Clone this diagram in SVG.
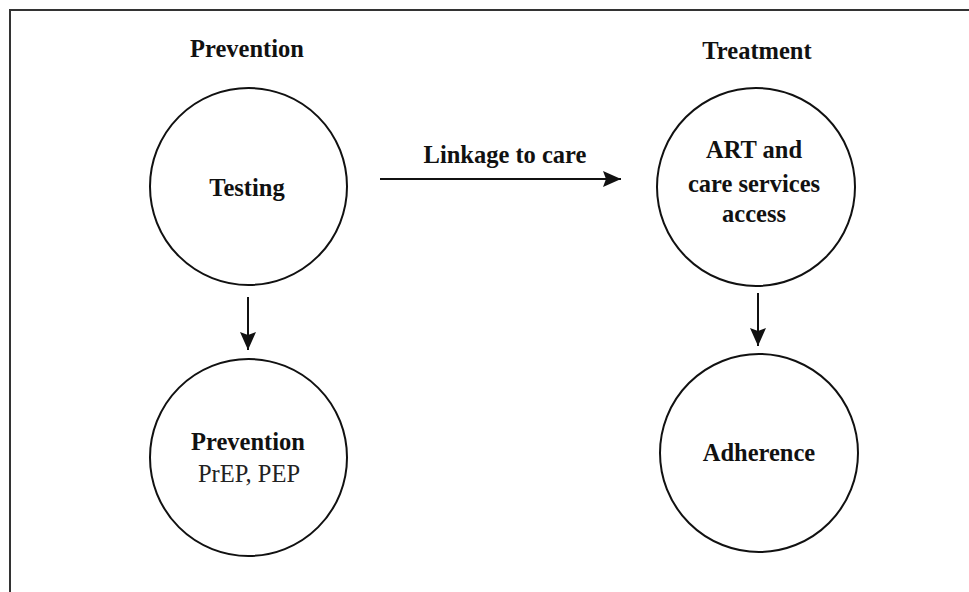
<svg xmlns="http://www.w3.org/2000/svg" width="969" height="592" viewBox="0 0 969 592">
<style>
.node{fill:#fff;stroke:#111;stroke-width:2}
.b{font-family:"Liberation Serif",serif;font-weight:bold;font-size:24.5px;fill:#111;text-anchor:middle}
.r{font-family:"Liberation Serif",serif;font-size:24.5px;fill:#222;text-anchor:middle}
.edge{stroke:#111;stroke-width:2;fill:none}
</style>
<defs>
<marker id="ah" viewBox="0 0 18 16" refX="18" refY="8" markerWidth="18" markerHeight="16" markerUnits="userSpaceOnUse" orient="auto">
<path d="M0,0 L18,8 L0,16 L3,8 Z" fill="#111"/>
</marker>
</defs>
<rect x="10" y="10" width="980" height="600" fill="#fff" stroke="#333" stroke-width="2"/>
<text class="b" x="247" y="57">Prevention</text>
<text class="b" x="757" y="59">Treatment</text>
<g id="testing">
<circle class="node" cx="248.5" cy="186.5" r="98.5"/>
<text class="b" x="247" y="196">Testing</text>
</g>
<g id="art">
<circle class="node" cx="756" cy="187" r="99"/>
<text class="b" x="754" y="158">ART and</text>
<text class="b" x="754" y="192">care services</text>
<text class="b" x="754" y="222">access</text>
</g>
<g id="prevention">
<circle class="node" cx="248.5" cy="457.5" r="98.5"/>
<text class="b" x="248" y="450">Prevention</text>
<text class="r" x="249" y="482">PrEP, PEP</text>
</g>
<g id="adherence">
<circle class="node" cx="759" cy="453" r="99"/>
<text class="b" x="759" y="461">Adherence</text>
</g>
<g id="connectors">
<line class="edge" x1="380" y1="179" x2="621" y2="179" marker-end="url(#ah)"/>
<text class="b" x="505" y="163">Linkage to care</text>
<line class="edge" x1="248" y1="297" x2="248" y2="350" marker-end="url(#ah)"/>
<line class="edge" x1="758" y1="293" x2="758" y2="346" marker-end="url(#ah)"/>
</g>
</svg>
